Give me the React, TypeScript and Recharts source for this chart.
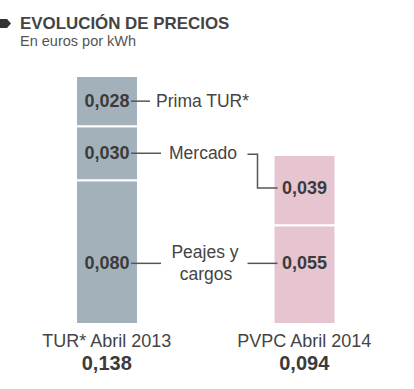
import { Bar, BarChart, Cell, LabelList, XAxis, YAxis } from 'recharts';

const categories = ['TUR* Abril 2013', 'PVPC Abril 2014'];
const totals = ['0,138', '0,094'];
const peajes = [0.08, 0.055];
const mercado = [0.03, 0.039];
const prima: (number | null)[] = [0.028, null];
const barColors = ['#a3b2ba', '#e6c4d0'];

const data = categories.map((name, i) => ({
  name,
  total: totals[i],
  peajes: peajes[i],
  mercado: mercado[i],
  prima: prima[i],
}));

const FONT = '"Liberation Sans", Arial, sans-serif';
const INK = '#3b3b3b';
const LINE = '#555';

const fmt = (v: number) => v.toFixed(3).replace('.', ',');

function box(p: any) {
  const v = p.viewBox && p.viewBox.width != null ? p.viewBox : p;
  return { x: Number(v.x), y: Number(v.y), w: Number(v.width), h: Number(v.height) };
}

function Value({ x, y, v }: { x: number; y: number; v: number }) {
  return (
    <text x={x} y={y} textAnchor="middle" dominantBaseline="central" fontFamily={FONT} fontWeight="bold" fontSize={18} fill={INK}>
      {fmt(v)}
    </text>
  );
}

function Note({ x, y, children, anchor = 'start' }: any) {
  return (
    <text x={x} y={y} textAnchor={anchor} dominantBaseline="central" fontFamily={FONT} fontSize={17.5} fill="#444">
      {children}
    </text>
  );
}

function PrimaLabel(p: any) {
  const { index } = p;
  const value = prima[index];
  if (value == null) return null;
  const { x, y, w, h } = box(p);
  const cx = x + w / 2;
  const cy = y + h / 2;
  return (
    <g>
      <Value x={cx} y={cy} v={value} />
      <line x1={cx + 24} x2={x + w + 12} y1={cy} y2={cy} stroke={LINE} strokeWidth={1.5} />
      <Note x={x + w + 18} y={cy}>Prima TUR*</Note>
    </g>
  );
}

function MercadoLabel(p: any) {
  const { index } = p;
  const { x, y, w, h } = box(p);
  const cx = x + w / 2;
  const cy = y + h / 2;
  if (index === 0) {
    return (
      <g>
        <Value x={cx} y={cy} v={mercado[0]} />
        <line x1={cx + 24} x2={x + w + 23} y1={cy} y2={cy} stroke={LINE} strokeWidth={1.5} />
        <Note x={x + w + 31} y={cy}>Mercado</Note>
      </g>
    );
  }
  const ppu = h / mercado[index];
  const bottom = y + h + peajes[index] * ppu;
  const leftY = bottom - (peajes[0] + mercado[0] / 2) * ppu;
  return (
    <g>
      <Value x={cx} y={cy - 2} v={mercado[index]} />
      <path d={`M${x - 26},${leftY + 1} H${x - 16} V${cy - 2} H${x + 4}`} fill="none" stroke={LINE} strokeWidth={1.5} />
    </g>
  );
}

function PeajesLabel(p: any) {
  const { index } = p;
  const { x, y, w, h } = box(p);
  const cx = x + w / 2;
  const ppu = h / peajes[index];
  const bottom = y + h;
  const ly = (bottom - (peajes[0] * ppu) / 2 + bottom - (peajes[1] * ppu) / 2) / 2;
  if (index === 0) {
    return (
      <g>
        <Value x={cx} y={ly} v={peajes[0]} />
        <line x1={cx + 24} x2={x + w + 23} y1={ly} y2={ly} stroke={LINE} strokeWidth={1.5} />
        <Note x={x + w + 67} y={ly - 11} anchor="middle">Peajes y</Note>
        <Note x={x + w + 68} y={ly + 11} anchor="middle">cargos</Note>
      </g>
    );
  }
  return (
    <g>
      <Value x={cx} y={ly} v={peajes[index]} />
      <line x1={x - 26} x2={x + 4} y1={ly} y2={ly} stroke={LINE} strokeWidth={1.5} />
    </g>
  );
}

function CategoryTick(p: any) {
  const { x, y, payload, index } = p;
  return (
    <g>
      <text x={x} y={y + 23} textAnchor="middle" fontFamily={FONT} fontSize={18} fill="#444">
        {payload.value}
      </text>
      <text x={x} y={y + 46} textAnchor="middle" fontFamily={FONT} fontWeight="bold" fontSize={20} fill={INK}>
        {totals[index]}
      </text>
    </g>
  );
}

export default function App() {
  return (
    <div style={{ position: 'absolute', left: 0, top: 0, width: 414, height: 389, background: '#fff' }}>
      <svg width={414} height={60} style={{ position: 'absolute', left: 0, top: 0 }}>
        <polygon points="0,19 7,19 11,23.5 7,28 0,28" fill="#333" />
        <text x={20} y={28.5} fontFamily={FONT} fontWeight="bold" fontSize={16.9} fill="#444">
          EVOLUCIÓN DE PRECIOS
        </text>
        <text x={20} y={46} fontFamily={FONT} fontSize={14.5} fill="#555">
          En euros por kWh
        </text>
      </svg>
      <BarChart width={414} height={389} data={data} margin={{ top: 76, right: 11, left: 8, bottom: 15 }}>
        <XAxis
          dataKey="name"
          axisLine={false}
          tickLine={false}
          tickSize={0}
          tickMargin={0}
          height={50}
          interval={0}
          tick={<CategoryTick />}
        />
        <YAxis hide domain={[0, 0.138]} />
        <Bar dataKey="peajes" stackId="a" barSize={62} stroke="#fff" strokeWidth={2} isAnimationActive={false}>
          {data.map((d, i) => (
            <Cell key={d.name} fill={barColors[i]} />
          ))}
          <LabelList dataKey="peajes" content={<PeajesLabel />} />
        </Bar>
        <Bar dataKey="mercado" stackId="a" barSize={62} stroke="#fff" strokeWidth={2} isAnimationActive={false}>
          {data.map((d, i) => (
            <Cell key={d.name} fill={barColors[i]} />
          ))}
          <LabelList dataKey="mercado" content={<MercadoLabel />} />
        </Bar>
        <Bar dataKey="prima" stackId="a" barSize={62} stroke="#fff" strokeWidth={2} isAnimationActive={false}>
          {data.map((d, i) => (
            <Cell key={d.name} fill={barColors[i]} />
          ))}
          <LabelList dataKey="prima" content={<PrimaLabel />} />
        </Bar>
      </BarChart>
    </div>
  );
}
